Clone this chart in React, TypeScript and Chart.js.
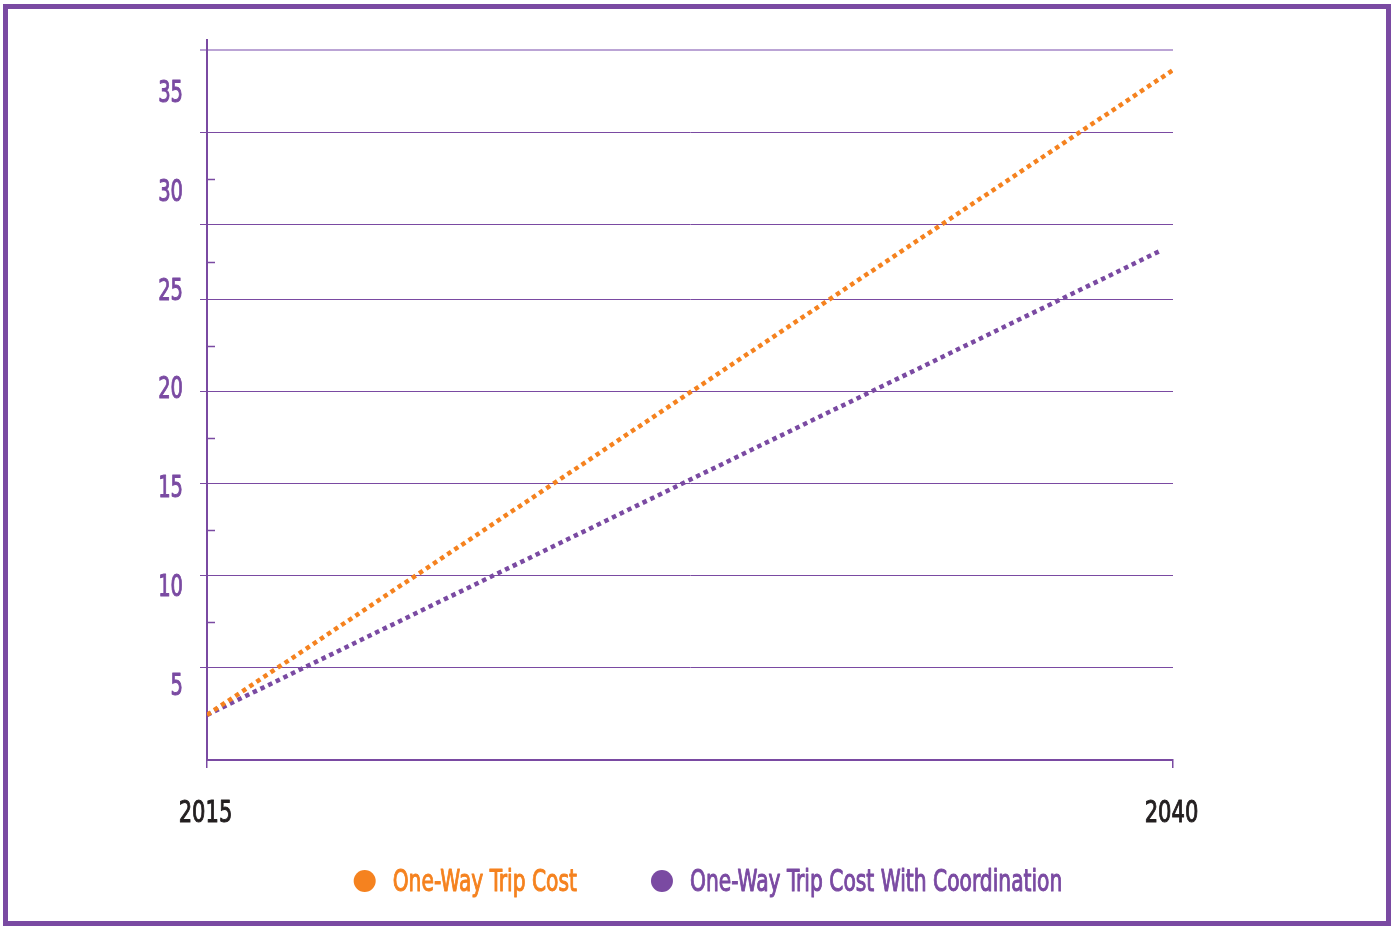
import React, { useEffect, useRef } from "react";
import { Chart, registerables } from "chart.js";

Chart.register(...registerables);

// ---- data ----
const years = [2015, 2040];
const tripCost = [2.45, 37.5];
const coordYears = [2015, 2039.7];
const tripCostCoord = [2.45, 27.7];
const seriesLabels = ["One-Way Trip Cost", "One-Way Trip Cost With Coordination"];
const xTickValues = [2015, 2040];
const yLabelValues = [5, 10, 15, 20, 25, 30, 35];
const gridValues = [5, 10, 15, 20, 25, 29.1, 34.1, 38.6];
const minorTickValues = [7.5, 12.5, 17.5, 22.5, 27.05, 31.6];

const ORANGE = "#F5821F";
const PURPLE = "#7A4AA2";
const LIGHT_PURPLE = "#BBA4D5";
const DARK = "#231F20";
const FONT = "'DejaVu Sans Condensed', 'DejaVu Sans', sans-serif";

const minorTicksPlugin = {
  id: "minorTicks",
  afterDraw(chart: any) {
    const { ctx, chartArea, scales } = chart;
    ctx.save();
    ctx.strokeStyle = PURPLE;
    ctx.lineWidth = 1.5;
    minorTickValues.forEach((v) => {
      const y = Math.round(scales.y.getPixelForValue(v)) + 0.5;
      ctx.beginPath();
      ctx.moveTo(chartArea.left, y);
      ctx.lineTo(chartArea.left + 8, y);
      ctx.stroke();
    });
    ctx.restore();
  },
};

function drawCondensed(ctx: any, text: string, x: number, y: number, size: number, sx: number, align: string, color: string) {
  ctx.save();
  ctx.font = `${size}px ${FONT}`;
  ctx.fillStyle = color;
  ctx.strokeStyle = color;
  ctx.lineWidth = 1;
  ctx.lineJoin = "round";
  ctx.textBaseline = "alphabetic";
  ctx.textAlign = align;
  ctx.translate(x, y);
  ctx.scale(sx, 1);
  ctx.fillText(text, 0, 0);
  ctx.strokeText(text, 0, 0);
  ctx.restore();
}

const textPlugin = {
  id: "condensedText",
  afterDraw(chart: any) {
    const { ctx, scales } = chart;
    // y labels
    yLabelValues.forEach((v) => {
      drawCondensed(ctx, String(v), 183, scales.y2.getPixelForValue(v) + 11.5, 31, 0.7, "right", PURPLE);
    });
    // x labels
    xTickValues.forEach((v) => {
      drawCondensed(ctx, String(v), scales.x.getPixelForValue(v) - 1.5, 822, 30, 0.78, "center", DARK);
    });
    // legend
    const size = 30;
    const sx = 0.75;
    const radius = 11;
    const gap = 17;
    const itemGap = 74;
    ctx.save();
    ctx.font = `${size}px ${FONT}`;
    const items = chart.data.datasets.map((ds: any) => ({
      text: ds.label,
      color: ds.borderColor,
      w: ctx.measureText(ds.label).width * sx,
    }));
    ctx.restore();
    const total = items.reduce((s: number, it: any) => s + radius * 2 + gap + it.w, 0) + itemGap * (items.length - 1);
    let x = 708 - total / 2;
    const cy = 881;
    items.forEach((it: any) => {
      ctx.save();
      ctx.fillStyle = it.color;
      ctx.beginPath();
      ctx.arc(x + radius, cy, radius, 0, Math.PI * 2);
      ctx.fill();
      ctx.restore();
      drawCondensed(ctx, it.text, x + radius * 2 + gap, 891, size, sx, "left", it.color);
      x += radius * 2 + gap + it.w + itemGap;
    });
  },
};

export default function App() {
  const ref = useRef<HTMLCanvasElement | null>(null);

  useEffect(() => {
    if (!ref.current) return;
    const chart = new Chart(ref.current, {
      type: "line",
      data: {
        datasets: [
          {
            label: seriesLabels[0],
            data: years.map((x, i) => ({ x, y: tripCost[i] })),
            borderColor: ORANGE,
            backgroundColor: ORANGE,
            borderWidth: 4.5,
            borderDash: [4.5, 4],
            borderCapStyle: "butt",
            pointRadius: 0,
            tension: 0,
            yAxisID: "y",
          },
          {
            label: seriesLabels[1],
            data: coordYears.map((x, i) => ({ x, y: tripCostCoord[i] })),
            borderColor: PURPLE,
            backgroundColor: PURPLE,
            borderWidth: 4.5,
            borderDash: [4.5, 4],
            borderCapStyle: "butt",
            pointRadius: 0,
            tension: 0,
            yAxisID: "y",
          },
        ],
      },
      options: {
        animation: false,
        responsive: false,
        maintainAspectRatio: false,
        layout: { padding: { left: 200, right: 0, top: 40, bottom: 0 } },
        plugins: {
          tooltip: { enabled: false },
          legend: { display: false },
        },
        scales: {
          x: {
            type: "linear",
            position: "bottom",
            min: 2015,
            max: 2040,
            afterBuildTicks: (s: any) => {
              s.ticks = xTickValues.map((v) => ({ value: v }));
            },
            afterFit: (s: any) => {
              s.height = 166;
            },
            ticks: { display: false },
            grid: {
              display: true,
              drawOnChartArea: false,
              drawTicks: true,
              tickLength: 8,
              color: PURPLE,
              lineWidth: 1.5,
            },
            border: { display: true, color: PURPLE, width: 2 },
          },
          y: {
            type: "linear",
            position: "left",
            weight: 0,
            min: 0,
            max: 39.13,
            afterBuildTicks: (s: any) => {
              s.ticks = gridValues.map((v) => ({ value: v }));
            },
            afterFit: (s: any) => {
              s.width = 7;
            },
            ticks: { display: false },
            grid: {
              display: true,
              drawTicks: true,
              tickLength: 7,
              color: (c: any) => (c.tick && c.tick.value === gridValues[gridValues.length - 1] ? LIGHT_PURPLE : PURPLE),
              lineWidth: (c: any) => (c.tick && c.tick.value === gridValues[gridValues.length - 1] ? 2 : 1),
            },
            border: { display: true, color: PURPLE, width: 2 },
          },
          y2: {
            type: "linear",
            position: "left",
            weight: 1,
            min: 1.13,
            max: 37.55,
            afterBuildTicks: (s: any) => {
              s.ticks = yLabelValues.map((v) => ({ value: v }));
            },
            afterFit: (s: any) => {
              s.width = 0;
            },
            ticks: { display: false },
            grid: { display: false },
            border: { display: false },
          },
          y3: {
            type: "linear",
            position: "right",
            min: 0,
            max: 1,
            afterFit: (s: any) => {
              s.width = 218;
            },
            ticks: { display: false },
            grid: { display: false },
            border: { display: false },
          },
        },
      } as any,
      plugins: [minorTicksPlugin, textPlugin],
    });
    return () => chart.destroy();
  }, []);

  return (
    <div style={{ position: "fixed", left: 0, top: 0, width: 1391, height: 926, background: "#fff" }}>
      <canvas ref={ref} width={1391} height={926} style={{ position: "absolute", left: 0, top: 0, width: 1391, height: 926 }} />
      <div
        style={{
          position: "absolute",
          left: 3,
          top: 4,
          width: 1388,
          height: 922,
          boxSizing: "border-box",
          border: `5px solid ${PURPLE}`,
          pointerEvents: "none",
        }}
      />
    </div>
  );
}
